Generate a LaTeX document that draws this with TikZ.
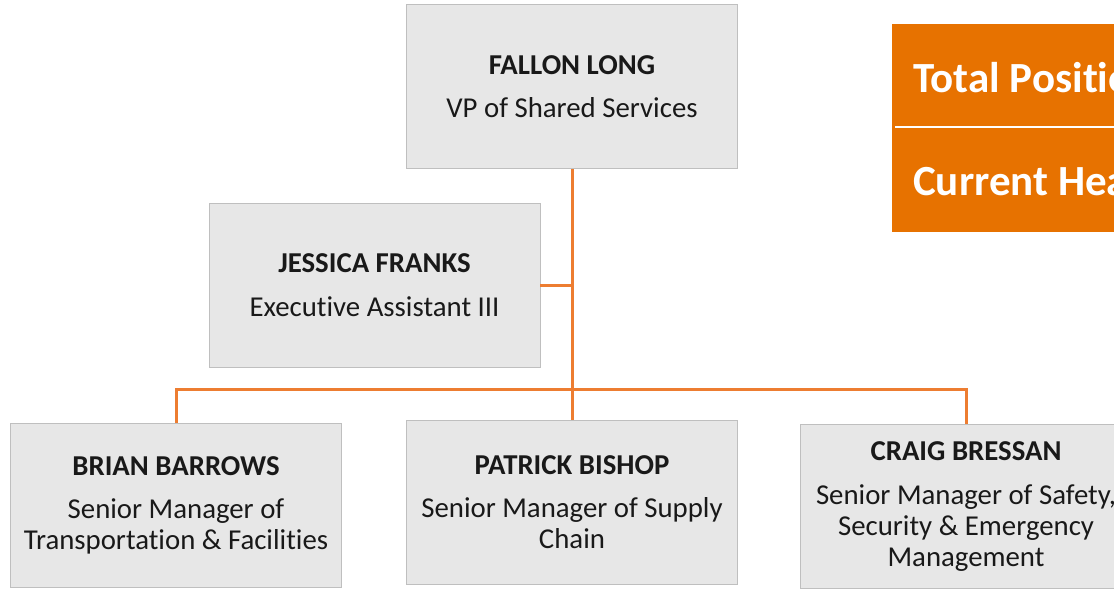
\documentclass[tikz,border=0pt]{standalone}
\usepackage{fontspec}
\setmainfont{Carlito}[RawFeature=-liga]
\definecolor{boxgray}{HTML}{E7E7E7}
\definecolor{boxedge}{HTML}{BFBFBF}
\definecolor{linkorange}{HTML}{ED7D31}
\definecolor{panelorange}{HTML}{E77200}
\begin{document}
\begin{tikzpicture}[x=1pt,y=-1pt,
  person/.style={draw=boxedge, line width=0.8pt, fill=boxgray, text=black!90,
    align=center, inner sep=0pt, minimum width=331pt, minimum height=164pt,
    font=\fontsize{28.8}{31}\selectfont},
  link/.style={draw=linkorange, line width=3pt},
  panel/.style={white, font=\fontsize{43}{50}\selectfont\bfseries, anchor=west, inner sep=0pt}]
  \useasboundingbox (0,0) rectangle (1114,589);
  \begin{scope}
    \clip (0,0) rectangle (1114,589);
    % staff boxes
    \node[person] (fallon)  at (572,86.5)  {\textbf{FALLON LONG}\\[12.5pt]VP of Shared Services};
    \node[person] (jessica) at (374.5,285) {\textbf{JESSICA FRANKS}\\[12.5pt]Executive Assistant III};
    \node[person] (brian)   at (176,505.5) {\textbf{BRIAN BARROWS}\\[12.5pt]Senior Manager of\\Transportation \& Facilities};
    \node[person] (patrick) at (572,502)   {\textbf{PATRICK BISHOP}\\[12.5pt]Senior Manager of Supply\\Chain};
    \node[person] (craig)   at (966,506.5) {\textbf{CRAIG BRESSAN}\\[12.5pt]Senior Manager of Safety,\\Security \& Emergency\\Management};
    % reporting lines
    \coordinate (bus) at (572,389);
    \draw[link] (fallon.south) -- (patrick.north);
    \draw[link] (jessica.east) -- (jessica.east -| fallon.south);
    \draw[link] (brian.north) |- (bus) -| (craig.north);
    % headcount panel
    \node[fill=panelorange, inner sep=0pt, minimum width=320pt, minimum height=208pt, anchor=north west] (panel) at (892,24) {};
    \draw[white, line width=2pt] ([xshift=3pt]panel.west |- 0,127) -- (panel.east |- 0,127);
    \node[panel] (total)   at (913,78)  {Total Positions};
    \node[panel] (current) at (913,181) {Current Headcount};
  \end{scope}
\end{tikzpicture}
\end{document}
